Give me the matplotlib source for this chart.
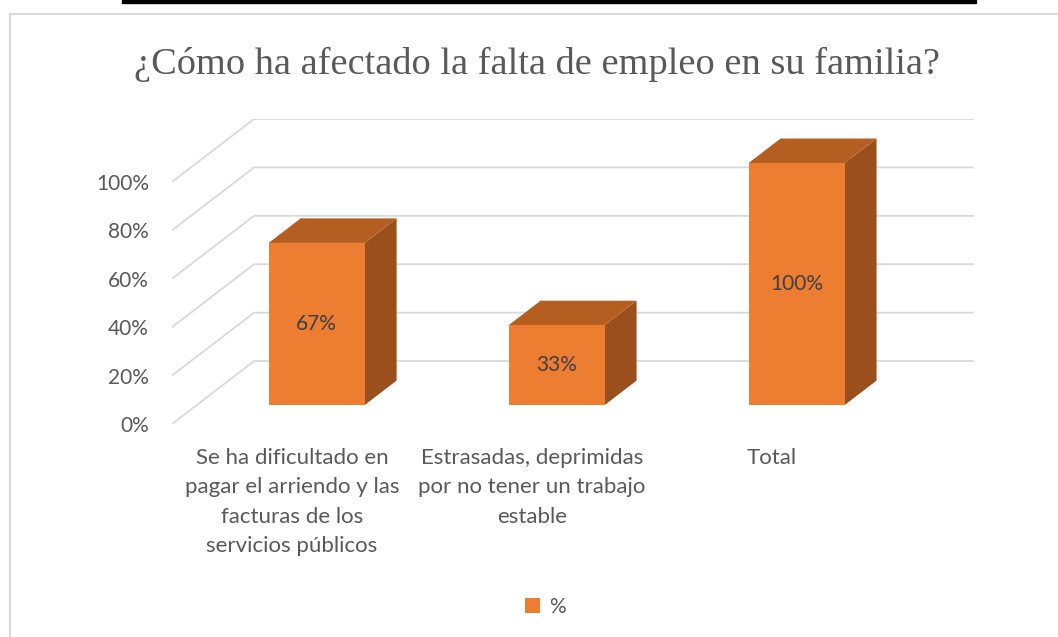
import matplotlib.pyplot as plt
from matplotlib.patches import Patch, Rectangle
from matplotlib.lines import Line2D

# data
categories = ["Se ha dificultado en\npagar el arriendo y las\nfacturas de los\nservicios públicos",
              "Estrasadas, deprimidas\npor no tener un trabajo\nestable",
              "Total"]
values = [0.67, 0.33, 1.00]
value_labels = ["67%", "33%", "100%"]
yticks = [0, 0.2, 0.4, 0.6, 0.8, 1.0]
title = "¿Cómo ha afectado la falta de empleo en su familia?"
series_name = "%"

# colours
front_col = "#ED7D31"
top_col = "#B55E22"
side_col = "#9A4F1D"
grid_col = "#D9D9D9"
text_col = "#595959"

# fake 3d: depth offset expressed in data units
DX = 0.342   # category units
DY = 0.26    # value units
D0, D1 = 0.30, 0.69   # bar front/back depth fraction
HW = 0.2              # half bar width

W, H = 1058, 637
fig = plt.figure(figsize=(W / 100, H / 100), dpi=100)
fig.patch.set_facecolor("white")

ax = fig.add_axes([172 / W, (H - 424) / H, 802 / W, 305 / H])
ax.set_xlim(-0.5, len(categories) - 0.5 + DX)
ax.set_ylim(0, 1 + DY)
for s in ax.spines.values():
    s.set_visible(False)

# gridlines: diagonal on the left wall plus line on back wall
for t in yticks:
    ax.plot([-0.5, -0.5 + DX, len(categories) - 0.5 + DX], [t, t + DY, t + DY],
            color=grid_col, lw=1.3, zorder=1, solid_capstyle="butt")

# bars
for i, v in enumerate(values):
    xl = i - HW + D0 * DX
    xr = i + HW + D0 * DX
    yb = D0 * DY
    yt = v + D0 * DY
    ddx = (D1 - D0) * DX
    ddy = (D1 - D0) * DY
    # side face
    ax.fill([xr, xr + ddx, xr + ddx, xr], [yb, yb + ddy, yt + ddy, yt],
            color=side_col, lw=0, zorder=2)
    # top face
    ax.fill([xl, xr, xr + ddx, xl + ddx], [yt, yt, yt + ddy, yt + ddy],
            color=top_col, lw=0, zorder=2)
    # front face
    ax.fill([xl, xr, xr, xl], [yb, yb, yt, yt], color=front_col, lw=0, zorder=3)
    ax.text(i + D0 * DX, v / 2 + D0 * DY, value_labels[i], ha="center", va="center",
            fontsize=15, color="#404040", family="Lato", zorder=4)

ax.set_yticks(yticks)
ax.set_yticklabels([f"{int(round(t * 100))}%" for t in yticks], family="Lato",
                   fontsize=15, color=text_col)
ax.set_xticks(range(len(categories)))
ax.set_xticklabels(categories, family="Lato", fontsize=16, color=text_col,
                   linespacing=1.6, va="top")
ax.tick_params(axis="y", length=0, pad=16.5)
ax.tick_params(axis="x", length=0, pad=17)

# title
fig.text(537 / W, 1 - 74 / H, title, ha="center", va="baseline",
         family="Liberation Serif", fontsize=27.6, color=text_col)

# legend
fig.legend(handles=[Patch(facecolor=front_col, edgecolor="none")], labels=[series_name],
           loc="center", bbox_to_anchor=(545 / W, 1 - 607 / H), frameon=False,
           handlelength=0.75, handleheight=0.75, handletextpad=0.4,
           prop={"family": "Lato", "size": 15}, labelcolor=text_col)

# chart border (left and top visible) and black rule at the very top
fig.add_artist(Line2D([10 / W, 10 / W], [0, 1 - 14 / H], color=grid_col, lw=1.5))
fig.add_artist(Line2D([10 / W, 1], [1 - 14 / H, 1 - 14 / H], color=grid_col, lw=1.5))
fig.add_artist(Rectangle((122 / W, 1 - 3 / H), 854 / W, 3 / H, color="black",
                         transform=fig.transFigure))

plt.savefig("out.png", dpi=100)
